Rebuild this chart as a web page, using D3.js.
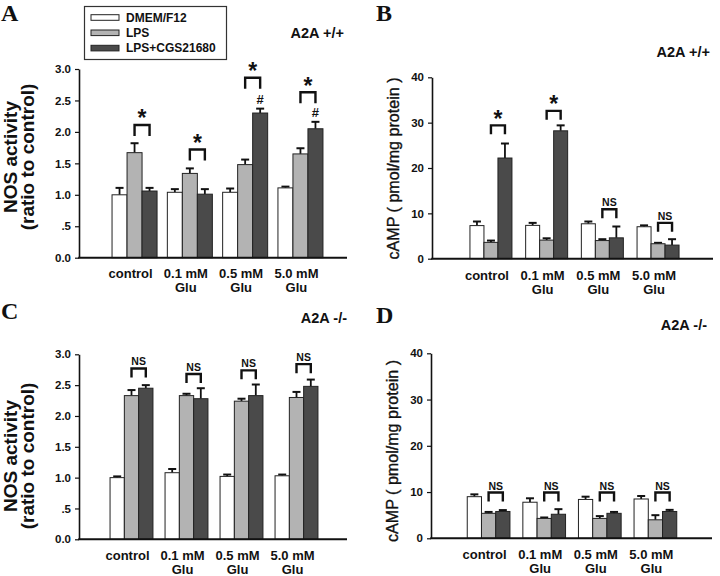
<!DOCTYPE html>
<html><head><meta charset="utf-8">
<script src="https://cdn.jsdelivr.net/npm/d3@7/dist/d3.min.js"></script>
<style>body{margin:0;background:#fff}svg{display:block}</style>
</head><body><svg id="c" width="720" height="576"></svg>
<script>
// ---------- data ----------
const categories = [["control"], ["0.1 mM", "Glu"], ["0.5 mM", "Glu"], ["5.0 mM", "Glu"]];
const seriesNames = ["DMEM/F12", "LPS", "LPS+CGS21680"];
const seriesColors = ["#ffffff", "#b3b3b3", "#4a4a4a"];
const nosTicks = [0, 0.5, 1, 1.5, 2, 2.5, 3];
const nosTickLabels = ["0.0", ".5", "1.0", "1.5", "2.0", "2.5", "3.0"];
const campTicks = [0, 10, 20, 30, 40];
const campTickLabels = ["0", "10", "20", "30", "40"];

// Panel A: NOS activity, A2A +/+
const nosWtDmem = [1.00, 1.04, 1.04, 1.11];
const nosWtLps = [1.67, 1.34, 1.48, 1.65];
const nosWtCgs = [1.06, 1.01, 2.30, 2.05];
const nosWtDmemErr = [0.11, 0.05, 0.06, 0.02];
const nosWtLpsErr = [0.15, 0.08, 0.08, 0.09];
const nosWtCgsErr = [0.05, 0.08, 0.07, 0.11];
const nosWtBracket = [2.11, 1.72, 2.86, 2.63];
const nosWtBracketLabel = ["*", "*", "*", "*"];
const nosWtHash = ["", "", "#", "#"];

// Panel B: cAMP, A2A +/+
const campWtDmem = [7.3, 7.35, 7.7, 7.05];
const campWtLps = [3.6, 4.1, 4.0, 3.3];
const campWtCgs = [22.2, 28.2, 4.6, 3.0];
const campWtDmemErr = [0.9, 0.55, 0.5, 0.3];
const campWtLpsErr = [0.4, 0.4, 0.3, 0.2];
const campWtCgsErr = [3.2, 1.2, 2.5, 1.3];
const campWtBracket = [29.4, 32.6, 10.9, 7.9];
const campWtBracketLabel = ["*", "*", "NS", "NS"];

// Panel C: NOS activity, A2A -/-
const nosKoDmem = [1.00, 1.08, 1.02, 1.03];
const nosKoLps = [2.33, 2.33, 2.24, 2.30];
const nosKoCgs = [2.45, 2.28, 2.33, 2.48];
const nosKoDmemErr = [0.02, 0.06, 0.03, 0.02];
const nosKoLpsErr = [0.09, 0.03, 0.04, 0.09];
const nosKoCgsErr = [0.05, 0.17, 0.18, 0.11];
const nosKoBracket = [2.77, 2.68, 2.74, 2.84];
const nosKoBracketLabel = ["NS", "NS", "NS", "NS"];

// Panel D: cAMP, A2A -/-
const campKoDmem = [9.0, 7.8, 8.4, 8.5];
const campKoLps = [5.4, 4.3, 4.3, 4.0];
const campKoCgs = [5.8, 5.2, 5.4, 5.8];
const campKoDmemErr = [0.5, 0.85, 0.6, 0.65];
const campKoLpsErr = [0.3, 0.2, 0.5, 1.0];
const campKoCgsErr = [0.3, 1.1, 0.3, 0.35];
const campKoBracket = [9.9, 9.9, 9.9, 9.9];
const campKoBracketLabel = ["NS", "NS", "NS", "NS"];

// ---------- drawing ----------
const svg = d3.select("#c");
const SANS = "'Liberation Sans', Arial, sans-serif";
const SERIF = "'Liberation Serif', 'Times New Roman', serif";
const INK = "#111";

function drawPanel(o) {
  const g = svg.append("g");
  const idx = d3.range(categories.length);
  const x0 = d3.scaleBand().domain(idx).range(o.xr)
    .paddingInner(o.pad).paddingOuter(o.pad / 2);
  const x1 = d3.scaleBand().domain([0, 1, 2]).range([0, x0.bandwidth()]);
  const y = d3.scaleLinear().domain([0, o.ymax]).range(o.yr);

  // y axis
  const yAxis = d3.axisLeft(y).tickValues(o.ticks)
    .tickFormat((d, i) => o.tickLabels[i]).tickSize(4).tickSizeOuter(0).tickPadding(4);
  const ya = g.append("g").attr("transform", `translate(${o.axisX},0)`).call(yAxis);
  ya.select(".domain").attr("stroke", INK).attr("stroke-width", 1.6);
  ya.selectAll(".tick line").attr("stroke", INK).attr("stroke-width", 1.2);
  ya.selectAll(".tick text").attr("fill", INK).style("font-family", SANS)
    .style("font-size", "11.5px").style("font-weight", "bold");

  // bars with upward error bars
  for (let s = 0; s < 3; s++) {
    const vals = o.vals[s], errs = o.errs[s];
    idx.forEach(i => {
      const bx = x0(i) + x1(s), bw = x1.bandwidth(), cx = bx + bw / 2;
      const top = y(vals[i] + errs[i]);
      g.append("line").attr("x1", cx).attr("x2", cx).attr("y1", y(vals[i])).attr("y2", top)
        .attr("stroke", INK).attr("stroke-width", 1.8);
      g.append("line").attr("x1", cx - 4).attr("x2", cx + 4).attr("y1", top).attr("y2", top)
        .attr("stroke", INK).attr("stroke-width", 2);
      g.append("rect").attr("x", bx).attr("y", y(vals[i]))
        .attr("width", bw).attr("height", y(0) - y(vals[i]))
        .attr("fill", seriesColors[s]).attr("stroke", "#222").attr("stroke-width", 1);
    });
  }

  // x axis line
  g.append("line").attr("x1", o.axisX - 0.8).attr("x2", o.axisEnd)
    .attr("y1", y(0)).attr("y2", y(0)).attr("stroke", INK).attr("stroke-width", 2);

  // category labels
  idx.forEach(i => {
    const cx = x0(i) + x0.bandwidth() / 2 - 4;
    categories[i].forEach((t, k) => {
      g.append("text").attr("x", cx).attr("y", y(0) + o.labelOff + k * 14)
        .attr("text-anchor", "middle").attr("fill", INK)
        .style("font-family", SANS).style("font-size", "13px").style("font-weight", "bold").text(t);
    });
  });

  // significance brackets
  idx.forEach(i => {
    const xa = x0(i) + x1(1) + x1.bandwidth() / 2;
    const xb = x0(i) + x1(2) + x1.bandwidth() / 2;
    const yt = y(o.bracket[i]);
    g.append("path").attr("d", `M${xa},${yt + o.leg}V${yt}H${xb}V${yt + o.leg}`)
      .attr("fill", "none").attr("stroke", INK).attr("stroke-width", 2.4);
    const lab = o.bracketLabel[i];
    if (lab === "*") {
      g.append("text").attr("x", (xa + xb) / 2).attr("y", yt + 1.5)
        .attr("text-anchor", "middle").attr("fill", INK)
        .style("font-family", SANS).style("font-size", "23px").style("font-weight", "bold").text(lab);
    } else {
      g.append("text").attr("x", (xa + xb) / 2).attr("y", yt - 3)
        .attr("text-anchor", "middle").attr("fill", INK)
        .style("font-family", SANS).style("font-size", "10.5px").style("font-weight", "bold").text(lab);
    }
    if (o.hash && o.hash[i]) {
      g.append("text").attr("x", xb).attr("y", y(o.vals[2][i] + o.errs[2][i]) - 5)
        .attr("text-anchor", "middle").attr("fill", INK)
        .style("font-family", SANS).style("font-size", "13px").style("font-weight", "bold").text(o.hash[i]);
    }
  });

  // y title
  o.ytitle.forEach((t, k) => {
    const tt = g.append("text").attr("transform", `translate(${o.ytitleX[k]},${o.ytitleY}) rotate(-90)`)
      .attr("text-anchor", "middle").attr("fill", INK)
      .style("font-family", SANS).style("font-size", o.ytitleSize).style("font-weight", o.ytitleWeight).text(t);
    if (o.ytitleLen) {
      tt.attr("textLength", o.ytitleLen).attr("lengthAdjust", "spacingAndGlyphs")
        .attr("stroke", INK).attr("stroke-width", 0.35);
    }
  });

  // panel letter & genotype
  g.append("text").attr("x", o.letterX).attr("y", o.letterY).attr("fill", INK)
    .style("font-family", SERIF).style("font-size", "24px").style("font-weight", "bold").text(o.letter);
  g.append("text").attr("x", o.genoX).attr("y", o.genoY).attr("text-anchor", "end").attr("fill", INK)
    .style("font-family", SANS).style("font-size", "14.5px").style("font-weight", "bold").text(o.geno);
}

drawPanel({
  letter: "A", letterX: 1, letterY: 21, geno: "A2A +/+", genoX: 344, genoY: 38,
  vals: [nosWtDmem, nosWtLps, nosWtCgs], errs: [nosWtDmemErr, nosWtLpsErr, nosWtCgsErr],
  bracket: nosWtBracket, bracketLabel: nosWtBracketLabel, hash: nosWtHash, leg: 11,
  ymax: 3, ticks: nosTicks, tickLabels: nosTickLabels,
  xr: [106.9, 328.1], pad: 0.186, yr: [257.7, 69], axisX: 79, axisEnd: 347, labelOff: 20.5,
  ytitle: ["NOS activity", "(ratio to control)"], ytitleX: [17, 34], ytitleY: 157,
  ytitleSize: "19px", ytitleWeight: "bold"
});
drawPanel({
  letter: "B", letterX: 376, letterY: 21, geno: "A2A +/+", genoX: 710, genoY: 57,
  vals: [campWtDmem, campWtLps, campWtCgs], errs: [campWtDmemErr, campWtLpsErr, campWtCgsErr],
  bracket: campWtBracket, bracketLabel: campWtBracketLabel, leg: 9,
  ymax: 40, ticks: campTicks, tickLabels: campTickLabels,
  xr: [463.1, 685.9], pad: 0.246, yr: [258.7, 77.3], axisX: 432, axisEnd: 713, labelOff: 21,
  ytitle: ["cAMP ( pmol/mg protein )"], ytitleX: [398.5], ytitleY: 168.5, ytitleLen: 182,
  ytitleSize: "16.5px", ytitleWeight: "normal"
});
drawPanel({
  letter: "C", letterX: 1, letterY: 319, geno: "A2A -/-", genoX: 347, genoY: 323,
  vals: [nosKoDmem, nosKoLps, nosKoCgs], errs: [nosKoDmemErr, nosKoLpsErr, nosKoCgsErr],
  bracket: nosKoBracket, bracketLabel: nosKoBracketLabel, leg: 9,
  ymax: 3, ticks: nosTicks, tickLabels: nosTickLabels,
  xr: [104, 324], pad: 0.22, yr: [539.3, 354.3], axisX: 79, axisEnd: 347, labelOff: 21,
  ytitle: ["NOS activity", "(ratio to control)"], ytitleX: [17, 34], ytitleY: 456,
  ytitleSize: "19px", ytitleWeight: "bold"
});
drawPanel({
  letter: "D", letterX: 376, letterY: 323, geno: "A2A -/-", genoX: 707, genoY: 330,
  vals: [campKoDmem, campKoLps, campKoCgs], errs: [campKoDmemErr, campKoLpsErr, campKoCgsErr],
  bracket: campKoBracket, bracketLabel: campKoBracketLabel, leg: 9,
  ymax: 40, ticks: campTicks, tickLabels: campTickLabels,
  xr: [460.8, 683.2], pad: 0.232, yr: [538.3, 353.3], axisX: 431, axisEnd: 712, labelOff: 21,
  ytitle: ["cAMP ( pmol/mg protein )"], ytitleX: [398], ytitleY: 451, ytitleLen: 182,
  ytitleSize: "16.5px", ytitleWeight: "normal"
});

// legend
const lg = svg.append("g");
lg.append("rect").attr("x", 84.5).attr("y", 6.5).attr("width", 142).attr("height", 53)
  .attr("fill", "#fff").attr("stroke", "#333").attr("stroke-width", 1.2);
seriesNames.forEach((n, i) => {
  const cy = 17.5 + i * 15.3;
  lg.append("rect").attr("x", 91).attr("y", cy - 2.8).attr("width", 28).attr("height", 5.6)
    .attr("fill", seriesColors[i]).attr("stroke", "#222").attr("stroke-width", 1);
  lg.append("text").attr("x", 126).attr("y", cy + 4.3).attr("fill", INK)
    .style("font-family", SANS).style("font-size", "12px").style("font-weight", "bold").text(n);
});
</script></body></html>
